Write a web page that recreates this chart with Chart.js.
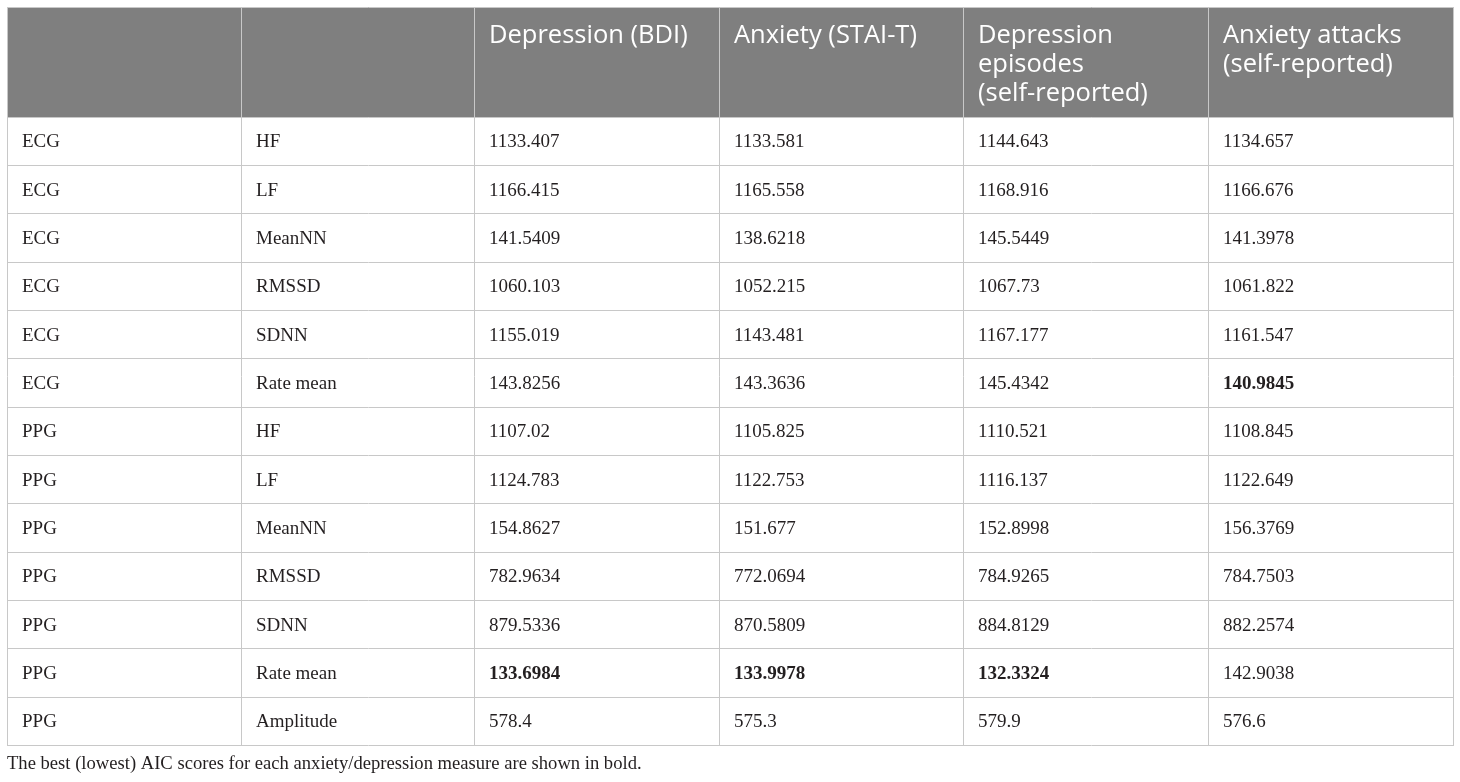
<!DOCTYPE html>
<html>
<head>
<meta charset="utf-8">
<script src="https://cdn.jsdelivr.net/npm/chart.js@4.4.1/dist/chart.umd.min.js"></script>
<style>
  html, body { margin: 0; padding: 0; background: #fff; }
  #wrap { width: 1460px; height: 782px; position: relative; }
</style>
</head>
<body>
<div id="wrap"><canvas id="aicTable"></canvas></div>
<script>
// Table content
const signals  = ['ECG', 'ECG', 'ECG', 'ECG', 'ECG', 'ECG', 'PPG', 'PPG', 'PPG', 'PPG', 'PPG', 'PPG', 'PPG'];
const features = ['HF', 'LF', 'MeanNN', 'RMSSD', 'SDNN', 'Rate mean', 'HF', 'LF', 'MeanNN', 'RMSSD', 'SDNN', 'Rate mean', 'Amplitude'];
const headers = [
    [''],
    [''],
    ['Depression (BDI)'],
    ['Anxiety (STAI-T)'],
    ['Depression', 'episodes', '(self-reported)'],
    ['Anxiety attacks', '(self-reported)']
];
const bdi        = [1133.407, 1166.415, 141.5409, 1060.103, 1155.019, 143.8256, 1107.02, 1124.783, 154.8627, 782.9634, 879.5336, 133.6984, 578.4];
const staiT      = [1133.581, 1165.558, 138.6218, 1052.215, 1143.481, 143.3636, 1105.825, 1122.753, 151.677, 772.0694, 870.5809, 133.9978, 575.3];
const depEpisode = [1144.643, 1168.916, 145.5449, 1067.73, 1167.177, 145.4342, 1110.521, 1116.137, 152.8998, 784.9265, 884.8129, 132.3324, 579.9];
const anxAttack  = [1134.657, 1166.676, 141.3978, 1061.822, 1161.547, 140.9845, 1108.845, 1122.649, 156.3769, 784.7503, 882.2574, 142.9038, 576.6];
const caption = 'The best (lowest) AIC scores for each anxiety/depression measure are shown in bold.';

// Layout (column widths in px, header height in row units)
const colWidths = [234, 233, 245, 244, 245, 245];
const headerRows = 2.28;
const colEdges = colWidths.reduce((acc, w) => { acc.push(acc[acc.length - 1] + w); return acc; }, [0]);

const columns = [signals, features, bdi, staiT, depEpisode, anxAttack];
const numericCols = [bdi, staiT, depEpisode, anxAttack];
// bold = lowest AIC per measure
const bestIdx = numericCols.map(col => col.indexOf(Math.min(...col)));

// one point per cell, placed at its left edge / row
const cellPoints = [];
columns.forEach((col, c) => {
    col.forEach((v, r) => cellPoints.push({ x: colEdges[c], y: r, c: c, r: r }));
});

const serif = '"Liberation Serif", "Times New Roman", serif';
const sans = '"Open Sans", "Noto Sans", sans-serif';
const rowLines = [-headerRows];
for (let i = 0; i <= signals.length; i++) rowLines.push(i);

const tablePlugin = {
    id: 'tablePlugin',
    beforeDraw(chart) {
        const { ctx, scales: { x, y } } = chart;
        ctx.save();
        ctx.fillStyle = '#7f7f7f';
        ctx.fillRect(x.getPixelForValue(0), y.getPixelForValue(-headerRows),
            x.getPixelForValue(colEdges[colEdges.length - 1]) - x.getPixelForValue(0),
            y.getPixelForValue(0) - y.getPixelForValue(-headerRows));
        ctx.restore();
    },
    afterDatasetsDraw(chart) {
        const { ctx, scales: { x, y } } = chart;
        ctx.save();
        // header
        ctx.fillStyle = '#ffffff';
        ctx.font = '25.5px ' + sans;
        ctx.textBaseline = 'alphabetic';
        ctx.textAlign = 'left';
        headers.forEach((lines, c) => {
            const left = x.getPixelForValue(colEdges[c]) + 15;
            const top = y.getPixelForValue(-headerRows);
            lines.forEach((ln, i) => ctx.fillText(ln, left, top + 36 + i * 29));
        });
        // body
        const meta = chart.getDatasetMeta(0);
        ctx.fillStyle = '#231f20';
        ctx.textBaseline = 'middle';
        meta.data.forEach((pt, i) => {
            const p = cellPoints[i];
            const bold = p.c >= 2 && bestIdx[p.c - 2] === p.r;
            ctx.font = (bold ? 'bold ' : '') + '19px ' + serif;
            const cy = (y.getPixelForValue(p.r) + y.getPixelForValue(p.r + 1)) / 2 + 1;
            ctx.fillText(String(columns[p.c][p.r]), pt.x + 15, cy);
        });
        ctx.restore();
    }
};

new Chart(document.getElementById('aicTable'), {
    type: 'scatter',
    data: {
        datasets: [{
            data: cellPoints,
            pointRadius: 0,
            pointHoverRadius: 0
        }]
    },
    options: {
        responsive: true,
        maintainAspectRatio: false,
        animation: false,
        events: [],
        layout: { padding: { left: 7, right: 7, top: 7, bottom: 0 } },
        plugins: {
            legend: { display: false },
            tooltip: { enabled: false },
            title: {
                display: true,
                text: caption,
                position: 'bottom',
                align: 'start',
                color: '#231f20',
                font: { family: serif, size: 18.6, weight: 'normal' },
                padding: { top: 7, bottom: 7 }
            }
        },
        scales: {
            x: {
                type: 'linear',
                min: 0,
                max: colEdges[colEdges.length - 1],
                afterBuildTicks: axis => { axis.ticks = colEdges.map(v => ({ value: v })); },
                ticks: { display: false },
                grid: { color: '#c8c8c8', lineWidth: 1, drawTicks: false },
                border: { display: false }
            },
            y: {
                type: 'linear',
                reverse: true,
                min: -headerRows,
                max: signals.length,
                afterBuildTicks: axis => { axis.ticks = rowLines.map(v => ({ value: v })); },
                ticks: { display: false },
                grid: { color: '#c8c8c8', lineWidth: 1, drawTicks: false },
                border: { display: false }
            }
        }
    },
    plugins: [tablePlugin]
});
</script>
</body>
</html>
